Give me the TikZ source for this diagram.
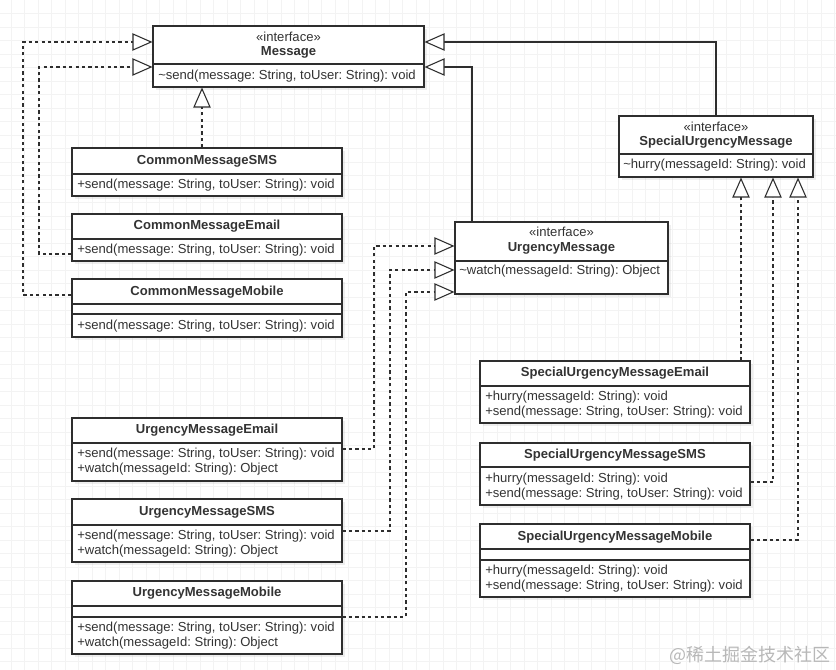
\documentclass[tikz,border=0pt]{standalone}
\usepackage{fontspec}
\setmainfont{Liberation Sans}
\newfontfamily\cjk{Noto Sans CJK SC}
\usetikzlibrary{arrows.meta,fit,shadows}
\frenchspacing
\definecolor{ink}{HTML}{2E2E2E}
\definecolor{txt}{HTML}{333333}
\definecolor{gridc}{HTML}{F3F3F3}
\definecolor{wmc}{HTML}{B8B8B8}
\tikzset{
  box/.style={draw=ink, fill=white, line width=0.8pt, inner sep=0pt,
    drop shadow={opacity=0.13, shadow xshift=2pt, shadow yshift=-2pt}},
  sep/.style={draw=ink, line width=0.8pt},
  ttl/.style={font=\fontsize{9.8}{11}\selectfont\bfseries, text=txt, inner sep=0pt},
  stereo/.style={font=\fontsize{9.8}{11}\selectfont, text=txt, inner sep=0pt},
  meth/.style={font=\fontsize{9.8}{11}\selectfont, text=txt, anchor=west, inner sep=0pt},
  tip/.style={-{Triangle[length=15pt,width=13pt,fill=white,line width=0.8pt]}},
  real/.style={tip, draw=ink, line width=0.8pt, dash pattern=on 2.4pt off 2.4pt},
  gen/.style={tip, draw=ink, line width=0.8pt},
  wm/.style={font=\cjk\fontsize{13.5}{14}\selectfont, text=wmc, inner sep=0pt}
}
\begin{document}
\begin{tikzpicture}[x=0.75pt,y=-0.75pt]
\useasboundingbox (0,0) rectangle (836,670);
\fill[white] (0,0) rectangle (836,670);
\foreach \i in {0,...,61} \draw[gridc, line width=0.5pt] ({11+13.5*\i},0) -- ({11+13.5*\i},670);
\foreach \i in {1,...,49} \draw[gridc, line width=0.5pt] (0,{13.5*\i}) -- (836,{13.5*\i});

% ---------- Message
\node[box, fit={(153,26) (424,87)}] (msg) {};
\draw[sep] (msg.west |- 0,64) -- (msg.east |- 0,64);
\node[stereo] (msgs) at (288.5,37) {«interface»};
\node[ttl] (msgt) at (288.5,52) {Message};
\node[meth] (msgm) at (158,76) {\textasciitilde send(message: String, toUser: String): void};

% ---------- SpecialUrgencyMessage
\node[box, fit={(619,116) (813,177)}] (sum) {};
\draw[sep] (sum.west |- 0,154) -- (sum.east |- 0,154);
\node[stereo] (sums0) at (716,127) {«interface»};
\node[ttl] (sumt) at (716,142) {SpecialUrgencyMessage};
\node[meth] (summ0) at (623,165) {\textasciitilde hurry(messageId: String): void};

% ---------- UrgencyMessage
\node[box, fit={(455,222) (668,294)}] (um) {};
\draw[sep] (um.west |- 0,261) -- (um.east |- 0,261);
\node[stereo] (ums0) at (561.5,232) {«interface»};
\node[ttl] (umt) at (561.5,248) {UrgencyMessage};
\node[meth] (umm0) at (459,271) {\textasciitilde watch(messageId: String): Object};

% ---------- CommonMessageSMS
\node[box, fit={(72,148) (342,196)}] (cms) {};
\draw[sep] (cms.west |- 0,174) -- (cms.east |- 0,174);
\node[ttl] (cmst) at (207,161) {CommonMessageSMS};
\node[meth] (cmsm) at (77,185) {+send(message: String, toUser: String): void};

% ---------- CommonMessageEmail
\node[box, fit={(72,214) (342,261)}] (cme) {};
\draw[sep] (cme.west |- 0,239) -- (cme.east |- 0,239);
\node[ttl] (cmet) at (207,226) {CommonMessageEmail};
\node[meth] (cmem) at (77,250) {+send(message: String, toUser: String): void};

% ---------- CommonMessageMobile
\node[box, fit={(72,279) (342,337)}] (cmm) {};
\draw[sep] (cmm.west |- 0,304) -- (cmm.east |- 0,304);
\draw[sep] (cmm.west |- 0,314) -- (cmm.east |- 0,314);
\node[ttl] (cmmt) at (207,292) {CommonMessageMobile};
\node[meth] (cmmm) at (77,326) {+send(message: String, toUser: String): void};

% ---------- UrgencyMessageEmail
\node[box, fit={(72,418) (342,481)}] (ume) {};
\draw[sep] (ume.west |- 0,443) -- (ume.east |- 0,443);
\node[ttl] (umet) at (207,430) {UrgencyMessageEmail};
\node[meth] (umem1) at (77,454) {+send(message: String, toUser: String): void};
\node[meth] (umem2) at (77,469) {+watch(messageId: String): Object};

% ---------- UrgencyMessageSMS
\node[box, fit={(72,499) (342,562)}] (ums) {};
\draw[sep] (ums.west |- 0,525) -- (ums.east |- 0,525);
\node[ttl] (umst) at (207,512) {UrgencyMessageSMS};
\node[meth] (umsm1) at (77,536) {+send(message: String, toUser: String): void};
\node[meth] (umsm2) at (77,551) {+watch(messageId: String): Object};

% ---------- UrgencyMessageMobile
\node[box, fit={(72,581) (342,654)}] (umm) {};
\draw[sep] (umm.west |- 0,606) -- (umm.east |- 0,606);
\draw[sep] (umm.west |- 0,617) -- (umm.east |- 0,617);
\node[ttl] (ummt) at (207,593) {UrgencyMessageMobile};
\node[meth] (ummm1) at (77,628) {+send(message: String, toUser: String): void};
\node[meth] (ummm2) at (77,643) {+watch(messageId: String): Object};

% ---------- SpecialUrgencyMessageEmail
\node[box, fit={(480,361) (750,423)}] (sume) {};
\draw[sep] (sume.west |- 0,386) -- (sume.east |- 0,386);
\node[ttl] (sumet) at (615,373) {SpecialUrgencyMessageEmail};
\node[meth] (sumem1) at (485,397) {+hurry(messageId: String): void};
\node[meth] (sumem2) at (485,412) {+send(message: String, toUser: String): void};

% ---------- SpecialUrgencyMessageSMS
\node[box, fit={(480,443) (750,505)}] (sums) {};
\draw[sep] (sums.west |- 0,467) -- (sums.east |- 0,467);
\node[ttl] (sumst) at (615,455) {SpecialUrgencyMessageSMS};
\node[meth] (sumsm1) at (485,479) {+hurry(messageId: String): void};
\node[meth] (sumsm2) at (485,494) {+send(message: String, toUser: String): void};

% ---------- SpecialUrgencyMessageMobile
\node[box, fit={(480,524) (750,597)}] (summ) {};
\draw[sep] (summ.west |- 0,549) -- (summ.east |- 0,549);
\draw[sep] (summ.west |- 0,560) -- (summ.east |- 0,560);
\node[ttl] (summt) at (615,537) {SpecialUrgencyMessageMobile};
\node[meth] (summm1) at (485,571) {+hurry(messageId: String): void};
\node[meth] (summm2) at (485,586) {+send(message: String, toUser: String): void};

% ---------- connectors
\draw[real] (cmm.west |- 0,295) -| (23,42) -- (msg.west |- 0,42);
\draw[real] (cme.west |- 0,254) -| (39,67) -- (msg.west |- 0,67);
\draw[real] (cms.north -| 202,0) -- (msg.south -| 202,0);
\draw[gen] (sum.north -| 716,0) |- (msg.east |- 0,42);
\draw[gen] (um.north -| 472,0) |- (msg.east |- 0,67);
\draw[real] (ume.east |- 0,449) -| (374,246) -- (um.west |- 0,246);
\draw[real] (ums.east |- 0,531) -| (390,270) -- (um.west |- 0,270);
\draw[real] (umm.east |- 0,617) -| (406,292) -- (um.west |- 0,292);
\draw[real] (sume.north -| 741,0) -- (sum.south -| 741,0);
\draw[real] (sums.east |- 0,482) -| (sum.south -| 773,0);
\draw[real] (summ.east |- 0,540) -| (sum.south -| 798,0);

% ---------- watermark
\node[wm] (wmk) at (750,655) {@稀土掘金技术社区};
\end{tikzpicture}
\end{document}
